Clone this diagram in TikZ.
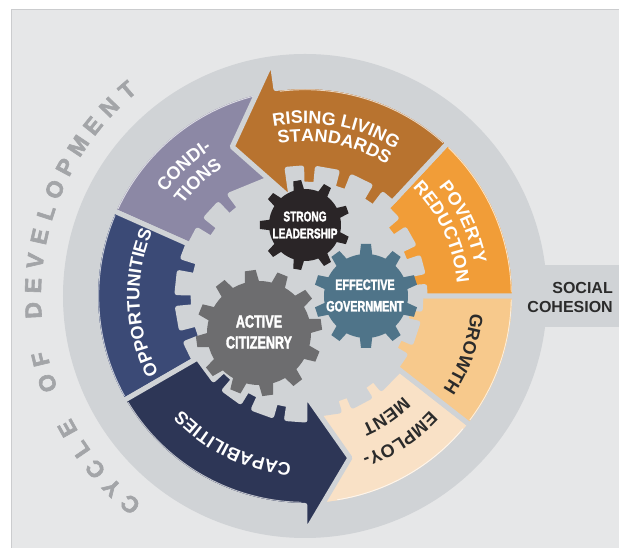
\documentclass[tikz,border=0pt]{standalone}
\usepackage{fontspec}
\setmainfont{Liberation Sans}
\newfontfamily\gearfont[FakeStretch=0.72, FakeBold=2]{Liberation Sans Bold}
\newfontfamily\heavyfont{Liberation Sans Bold}
\newfontfamily\cyclefont[FakeBold=2.5]{Liberation Sans Bold}
\usetikzlibrary{decorations.text}
\definecolor{bgc}{HTML}{E6E7E8}
\definecolor{framec}{HTML}{CBCCCE}
\definecolor{discc}{HTML}{D0D3D6}
\definecolor{condc}{HTML}{8C88A5}
\definecolor{risec}{HTML}{B8732F}
\definecolor{povc}{HTML}{F19D38}
\definecolor{growc}{HTML}{F7C98C}
\definecolor{empc}{HTML}{F9E1C6}
\definecolor{capc}{HTML}{2D3656}
\definecolor{oppc}{HTML}{3B4A76}
\definecolor{strongc}{HTML}{2A2527}
\definecolor{effc}{HTML}{4F7489}
\definecolor{actc}{HTML}{6D6D6F}
\definecolor{cycc}{HTML}{A3A5A8}
\definecolor{darktext}{HTML}{2B2B2B}
\tikzset{
  seg/.style={draw=discc, line width=5pt, line join=round},
  shine/.style={draw=white, line width=0.9pt, opacity=0.7},
  geartext/.style={text=white, align=center, inner sep=0pt},
  cycletter/.style={text=cycc, inner sep=0pt, font=\cyclefont\fontsize{23}{23}\selectfont},
}
% #1 centre angle, #2 baseline radius, #3 colour, #4 text
\newcommand\ringtext[4]{%
  \path[decorate, decoration={text along path, text align=center,
    text={|\heavyfont\fontsize{18}{18}\selectfont\color{#3}|#4}}]
    ({#1+60}:#2) arc[start angle={#1+60}, end angle={#1-60}, radius=#2];}
% cx, cy, body radius, tooth height, teeth, base width, tip width, phase, colour
\newcommand\drawgear[9]{%
  \fill[#9] (#1,#2) circle[radius=#3];
  \foreach \gi in {1,...,#5} {
    \fill[#9, shift={(#1,#2)}, rotate={#8+\gi*360/#5}]
      ({-#6/2},{#3-3}) -- ({-#7/2},{#3+#4}) -- ({#7/2},{#3+#4}) -- ({#6/2},{#3-3}) -- cycle;
  }}
\newcommand\shinearc[2]{\draw[shine] (#1:206.3) arc[start angle=#1, end angle=#2, radius=206.3];}
\def\Ro{209.5}
\begin{document}
\begin{tikzpicture}[x=1pt, y=1pt]
\useasboundingbox (-305,-252) rectangle (314,296);
\fill[white] (-305,-252) rectangle (314,296);
\fill[bgc, draw=framec, line width=1pt] (-293,-256) rectangle (318,286);
% band and disc
\fill[discc] (215,31) rectangle (316,-31);
\fill[discc] (0,0) circle[radius=242];
% CONDITIONS
\path[seg, fill=condc] (98:\Ro) arc[start angle=98, end angle=156, radius=\Ro] -- (156:126)
  \foreach \t in {145,130} { -- ({\t+3.5}:126) -- ({\t+3.5}:110) -- ({\t-3.5}:110) -- ({\t-3.5}:126) }
  -- (98:126) -- cycle;
\shinearc{104}{155}
% OPPORTUNITIES
\path[seg, fill=oppc] (156:\Ro) arc[start angle=156, end angle=210, radius=\Ro] -- (210:128)
  \foreach \t in {198,182,166} { -- ({\t+3.5}:128) -- ({\t+3.5}:112) -- ({\t-3.5}:112) -- ({\t-3.5}:128) }
  -- (156:128) -- cycle;
\shinearc{157}{209}
% EMPLOYMENT
\path[seg, fill=empc] (270:\Ro) arc[start angle=270, end angle=322, radius=\Ro] -- (322:120)
  \foreach \t in {306,290} { -- ({\t+3.5}:120) -- ({\t+3.5}:108) -- ({\t-3.5}:108) -- ({\t-3.5}:120) }
  -- (270:120) -- cycle;
% GROWTH
\path[seg, fill=growc] (322:\Ro) arc[start angle=322, end angle=360, radius=\Ro] -- (360:116)
  \foreach \t in {350,333} { -- ({\t+3.5}:116) -- ({\t+3.5}:104) -- ({\t-3.5}:104) -- ({\t-3.5}:116) }
  -- (322:116) -- cycle;
\shinearc{323}{359}
% POVERTY REDUCTION
\path[seg, fill=povc] (0:\Ro) arc[start angle=0, end angle=47, radius=\Ro] -- (47:120)
  \foreach \t in {37,22,8} { -- ({\t+3.5}:120) -- ({\t+3.5}:106) -- ({\t-3.5}:106) -- ({\t-3.5}:120) }
  -- (0:120) -- cycle;
\shinearc{1}{46}
% RISING LIVING STANDARDS (arrow)
\path[seg, fill=risec] (47:\Ro) arc[start angle=47, end angle=98, radius=\Ro]
  -- (98:237.5) -- (116:166) -- (98:98) -- (98:128)
  \foreach \t in {88,72,56} { -- ({\t+3.5}:128) -- ({\t+3.5}:112) -- ({\t-3.5}:112) -- ({\t-3.5}:128) }
  -- (47:128) -- cycle;
\shinearc{48}{97}
% CAPABILITIES (arrow)
\path[seg, fill=capc] (210:\Ro) arc[start angle=210, end angle=270, radius=\Ro]
  -- (270:237.5) -- (285.5:168) -- (270:98) -- (270:124)
  \foreach \t in {258,242,226} { -- ({\t+3.5}:124) -- ({\t+3.5}:110) -- ({\t-3.5}:110) -- ({\t-3.5}:124) }
  -- (210:124) -- cycle;
\shinearc{211}{269}
\shinearc{279}{320}
% segment texts
\ringtext{133}{173.5}{white}{CONDI-}
\ringtext{133}{152.5}{white}{TIONS}
\ringtext{79.5}{172.5}{white}{RISING LIVING}
\ringtext{79}{154.5}{white}{STANDARDS}
\ringtext{25}{172.5}{white}{POVERTY}
\ringtext{25}{152.5}{white}{REDUCTION}
\ringtext{-20}{166.5}{darktext}{GROWTH}
\ringtext{-56.5}{169.5}{darktext}{EMPLOY-}
\ringtext{-56}{140.5}{darktext}{MENT}
\ringtext{244}{167.5}{white}{CAPABILITIES}
\ringtext{182.5}{165.5}{white}{OPPORTUNITIES}
% gears
\drawgear{-46}{-37}{52}{11}{12}{15}{11}{8}{actc}
\drawgear{61}{0}{42}{10}{10}{13}{10}{0}{effc}
\drawgear{0}{71}{36}{9}{9}{11}{8}{10}{strongc}
\node[geartext, font=\gearfont\fontsize{17.5}{21}\selectfont] (active) at (-46,-36) {ACTIVE\\CITIZENRY};
\node[geartext, font=\gearfont\fontsize{15}{21.5}\selectfont] (effective) at (60,0.5) {EFFECTIVE\\GOVERNMENT};
\node[geartext, font=\gearfont\fontsize{14}{17}\selectfont] (strong) at (0,71) {STRONG\\LEADERSHIP};
% social cohesion
\node[align=right, anchor=east, inner sep=0pt, text=darktext, font=\heavyfont\fontsize{16}{19}\selectfont] (social) at (308,-1) {SOCIAL\\COHESION};
% cycle of development
\foreach \ch/\k in {C/0,Y/1,C/2,L/3,E/4,O/6,F/7,D/9,E/10,V/11,E/12,L/13,O/14,P/15,M/16,E/17,N/18,T/19} {
  \node[cycletter, rotate={140-5.22*\k}] (cyc\k) at ({230-5.22*\k}:272) {\ch};
}
\end{tikzpicture}
\end{document}
